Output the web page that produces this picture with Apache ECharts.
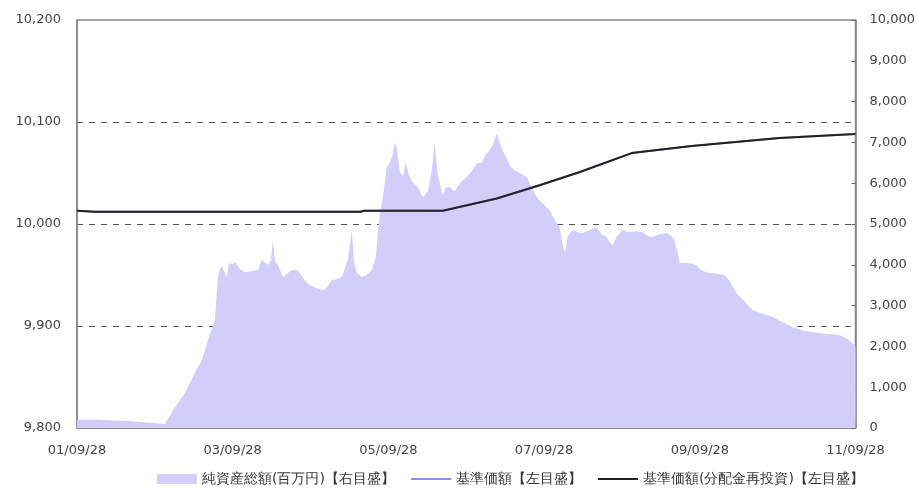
<!DOCTYPE html>
<html>
<head>
<meta charset="utf-8">
<script src="https://cdn.jsdelivr.net/npm/echarts@6/dist/echarts.min.js"></script>
<style>
html,body{margin:0;padding:0;background:#fff;}
#main{width:918px;height:494px;}
</style>
</head>
<body>
<div id="main"></div>
<script>
// ---- Data ----
const assetDates = [
'2001-09-28','2001-11-28','2002-03-02','2002-06-03','2002-09-05','2002-11-15','2002-12-31',
'2003-02-16','2003-04-04','2003-05-07','2003-06-04','2003-07-07','2003-07-21','2003-07-30','2003-08-09',
'2003-09-01','2003-09-11','2003-09-29','2003-10-09','2003-11-01','2003-11-25','2003-12-27',
'2004-01-25','2004-02-12','2004-03-11','2004-03-25','2004-04-04','2004-04-13','2004-04-27','2004-05-21',
'2004-06-13','2004-07-02','2004-07-25','2004-08-08','2004-09-01','2004-09-24','2004-10-18','2004-11-10','2004-12-04',
'2005-01-05','2005-01-29','2005-02-21','2005-03-21','2005-03-31','2005-04-09','2005-04-19','2005-05-03','2005-05-26',
'2005-06-19','2005-07-12','2005-07-31','2005-08-09','2005-08-18','2005-09-02','2005-09-20','2005-10-04','2005-10-18',
'2005-10-28','2005-11-06','2005-11-20','2005-12-04','2005-12-18',
'2006-01-02','2006-01-20','2006-02-13','2006-03-08','2006-04-01','2006-04-19','2006-05-03','2006-05-17','2006-06-10',
'2006-06-24','2006-07-13','2006-08-05','2006-08-29','2006-09-30','2006-10-24','2006-11-16','2006-12-10','2006-12-28',
'2007-01-16','2007-02-04','2007-02-18','2007-03-04','2007-03-18','2007-04-06','2007-04-25','2007-05-13','2007-06-06',
'2007-07-09','2007-08-01','2007-08-24','2007-09-22','2007-10-24','2007-11-17','2007-12-10','2007-12-24',
'2008-01-03','2008-01-17','2008-02-09','2008-03-04','2008-03-27','2008-04-29','2008-06-01','2008-06-24','2008-07-18',
'2008-08-01','2008-08-15','2008-09-03','2008-10-01','2008-11-02','2008-12-05',
'2009-01-02','2009-01-26','2009-02-18','2009-03-23','2009-04-25','2009-05-18','2009-06-01','2009-06-16','2009-06-25',
'2009-07-18','2009-08-11','2009-09-12','2009-10-11','2009-11-13','2009-12-20',
'2010-01-22','2010-02-14','2010-03-19','2010-04-26','2010-06-02','2010-07-19','2010-09-04','2010-10-21','2010-12-07',
'2011-02-01','2011-04-12','2011-05-29','2011-07-15','2011-08-17','2011-09-14','2011-09-28'
];
const assetValues = [
200,210,190,170,130,100,500,
850,1350,1670,2150,2650,3700,3900,3950,
3700,4050,4000,4070,3900,3820,3850,
3870,4120,4000,4100,4600,4100,4000,3700,
3800,3870,3870,3800,3620,3500,3450,3400,3380,
3620,3650,3700,4120,4500,4850,4100,3800,3700,
3750,3870,4200,4780,5200,5660,6400,6500,6700,
7000,6860,6300,6150,6500,
6200,6030,5900,5660,5800,6300,6980,6200,5700,
5900,5900,5800,6000,6150,6300,6490,6500,6700,
6810,7000,7230,7000,6800,6610,6400,6320,6250,
6150,5900,5660,5500,5340,5100,4920,4500,
4290,4700,4850,4800,4780,4850,4920,4750,4680,
4550,4480,4700,4850,4800,4820,
4800,4700,4680,4750,4780,4700,4600,4300,4040,
4050,4040,3990,3850,3800,3780,
3750,3600,3300,3100,2890,2800,2720,2600,2470,
2380,2330,2300,2280,2200,2080,2000
];
const navDates = ['2001-09-28','2001-12-20','2005-05-20','2005-06-05','2006-06-10','2007-02-18','2007-09-07','2008-03-14','2008-11-12','2009-08-20','2010-10-06','2011-09-28'];
const navValues = [10013,10012,10012,10013,10013,10025,10038,10051,10069.5,10076.5,10084.3,10088.2];
const navReinvValues = [10013,10012,10012,10013,10013,10025,10038,10051,10069.5,10076.5,10084.3,10088.2];
const xTickDates = ['2001-09-28','2003-09-28','2005-09-28','2007-09-28','2009-09-28','2011-09-28'];
const seriesNames = ['純資産総額(百万円)【右目盛】','基準価額【左目盛】','基準価額(分配金再投資)【左目盛】'];

function toTs(s){const p=s.split('-');return Date.UTC(+p[0],+p[1]-1,+p[2]);}
function pad(n){return (n<10?'0':'')+n;}

const assetData = assetDates.map((d,i)=>[toTs(d),assetValues[i]]);
const navData = navDates.map((d,i)=>[toTs(d),navValues[i]]);
const navReinvData = navDates.map((d,i)=>[toTs(d),navReinvValues[i]]);
const xTicks = xTickDates.map(toTs);

const font = 'DejaVu Sans';
const lineIcon = 'path://M0,0h40v2h-40z';
const chart = echarts.init(document.getElementById('main'));
chart.setOption({
  animation:false,
  textStyle:{fontFamily:font},
  grid:{left:77,right:62,top:20,bottom:66,show:true,borderColor:'#888',borderWidth:1.5,backgroundColor:'transparent'},
  legend:{
    bottom:3,left:152,itemWidth:40,itemHeight:10,itemGap:16,
    textStyle:{fontSize:14,color:'#333',fontFamily:font},
    data:[
      {name:seriesNames[0],icon:'rect',itemStyle:{color:'#d2cef9'}},
      {name:seriesNames[1],icon:lineIcon,itemStyle:{color:'#8f8cf0'}},
      {name:seriesNames[2],icon:lineIcon,itemStyle:{color:'#222'}}
    ]
  },
  xAxis:{
    type:'value',min:xTicks[0],max:xTicks[xTicks.length-1],
    axisLine:{show:true,lineStyle:{color:'#888',width:1.5}},
    axisTick:{show:true,inside:true,length:5,lineStyle:{color:'#666'},customValues:xTicks},
    axisLabel:{color:'#444',fontSize:13,margin:16,customValues:xTicks,
      formatter:function(v){const d=new Date(v);return pad(d.getUTCFullYear()%100)+'/'+pad(d.getUTCMonth()+1)+'/'+pad(d.getUTCDate());}},
    splitLine:{show:false}
  },
  yAxis:[
    {type:'value',min:9800,max:10200,interval:100,position:'left',
      axisLine:{show:true,lineStyle:{color:'#888',width:1.5}},
      axisTick:{show:false},
      axisLabel:{color:'#444',fontSize:13,margin:16,formatter:v=>v.toLocaleString('en-US')},
      splitLine:{show:true,showMinLine:false,showMaxLine:false,lineStyle:{color:'#555',type:[6,6],width:1}}
    },
    {type:'value',min:0,max:10000,interval:1000,position:'right',
      axisLine:{show:true,lineStyle:{color:'#888',width:1.5}},
      axisTick:{show:true,inside:true,length:4,lineStyle:{color:'#666'}},
      axisLabel:{color:'#444',fontSize:13,margin:14,formatter:v=>v.toLocaleString('en-US')},
      splitLine:{show:false}
    }
  ],
  series:[
    {name:seriesNames[0],type:'line',yAxisIndex:1,data:assetData,symbol:'none',
      lineStyle:{width:0,color:'#d2cef9'},itemStyle:{color:'#d2cef9'},areaStyle:{color:'#d2cef9',opacity:1},z:1},
    {name:seriesNames[1],type:'line',yAxisIndex:0,data:navData,symbol:'none',
      lineStyle:{width:2,color:'#8f8cf0'},itemStyle:{color:'#8f8cf0'},z:2},
    {name:seriesNames[2],type:'line',yAxisIndex:0,data:navReinvData,symbol:'none',
      lineStyle:{width:2,color:'#222'},itemStyle:{color:'#222'},z:3}
  ]
});
</script>
</body>
</html>
